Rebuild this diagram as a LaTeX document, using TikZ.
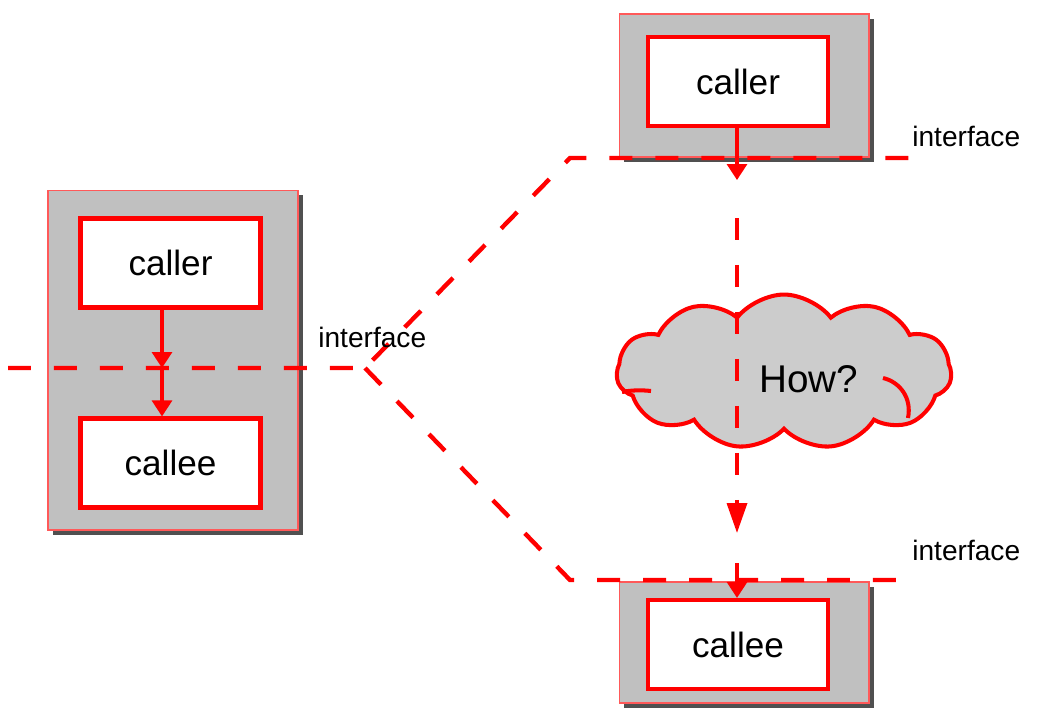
\documentclass[tikz,border=0pt]{standalone}
\usepackage{fontspec}
\setmainfont{Liberation Sans}
\usetikzlibrary{arrows.meta,shapes.symbols,shadows}
\definecolor{boxgray}{HTML}{C0C0C0}
\definecolor{cloudgray}{HTML}{CCCCCC}
\definecolor{shadowgray}{HTML}{505050}
\definecolor{myred}{HTML}{FF0000}
\begin{document}
\begin{tikzpicture}[x=0.02cm,y=-0.02cm,
  outerbox/.style={draw=myred!65, line width=0.6pt, fill=boxgray, minimum width=5cm, inner sep=0,
    drop shadow={shadow xshift=0.1cm, shadow yshift=-0.1cm, fill=shadowgray, opacity=1}},
  innerbox/.style={draw=myred, line width=2.4pt, fill=white, minimum width=3.6cm, minimum height=1.78cm,
    inner sep=0, font=\fontsize{20}{24}\selectfont},
  iface/.style={draw=myred, line width=2.5pt, dash pattern=on 0.46cm off 0.46cm},
  vdash/.style={draw=myred, line width=2pt, dash pattern=on 0.44cm off 0.5cm},
  arr/.style={draw=myred, line width=1.8pt, -{Triangle[length=0.32cm,width=0.4cm]}},
  bigarr/.style={-{Triangle[length=0.6cm,width=0.4cm]}},
  puff/.style={draw=myred, line width=2.3pt},
  lbl/.style={font=\fontsize{16}{19}\selectfont, inner sep=0, anchor=base west}]
\useasboundingbox (0,0) rectangle (1045,721);

% outer boxes
\node[outerbox, minimum height=6.8cm] (lbox) at (173,360) {};
\node[outerbox, minimum height=2.86cm] (tbox) at (744,85.5) {};
\node[outerbox, minimum height=2.42cm] (bbox) at (744,642.5) {};

% inner boxes
\node[innerbox] (lcaller) at (170.5,263) {caller};
\node[innerbox] (lcallee) at (170.5,463) {callee};
\node[innerbox] (rcaller) at (738,81.5) {caller};
\node[innerbox] (rcallee) at (738,644.5) {callee};

% cloud
\node[cloud, cloud puffs=11, cloud puff arc=105, aspect=2.1, draw=myred, line width=2.3pt,
  fill=cloudgray, minimum width=6.7cm, minimum height=3.1cm, inner sep=0] (cloud) at (784,372) {};
% inner puff arcs
\draw[puff] (883,378) .. controls (900,382) and (912,398) .. (908,418);
\draw[puff] (622,392) .. controls (632,390) and (642,390) .. (651,391);
\node[font=\fontsize{22}{26}\selectfont, inner sep=0, anchor=base] (how) at (809,392) {How?};

% interface lines
\coordinate (lstart) at (8,368);
\coordinate (vtx) at (365,368);
\coordinate (ucorner) at (570,158);
\coordinate (uend) at (916,158);
\coordinate (dcorner) at (570,580);
\coordinate (dend) at (916,580);
\draw[iface] (lstart) -- (vtx) -- (ucorner) -- (uend);
\draw[iface] (vtx) -- (dcorner) -- (dend);

% arrows left
\coordinate (lmid) at (162,368);
\draw[arr] (lcaller.south -| lmid) -- (lmid);
\draw[arr] (lmid) -- (lmid |- lcallee.north);

% arrows right
\coordinate (rtip) at (737,180);
\coordinate (rvstart) at (737,218);
\coordinate (rvend) at (737,533);
\coordinate (rstub) at (737,563);
\draw[arr] (rcaller.south -| rtip) -- (rtip);
\draw[vdash, bigarr] (rvstart) -- (rvend);
\draw[arr] (rstub) -- (rstub |- rcallee.north);

% labels
\node[lbl] (lif) at (318,347) {interface};
\node[lbl] (tif) at (912,146) {interface};
\node[lbl] (bif) at (912,560) {interface};
\end{tikzpicture}
\end{document}
